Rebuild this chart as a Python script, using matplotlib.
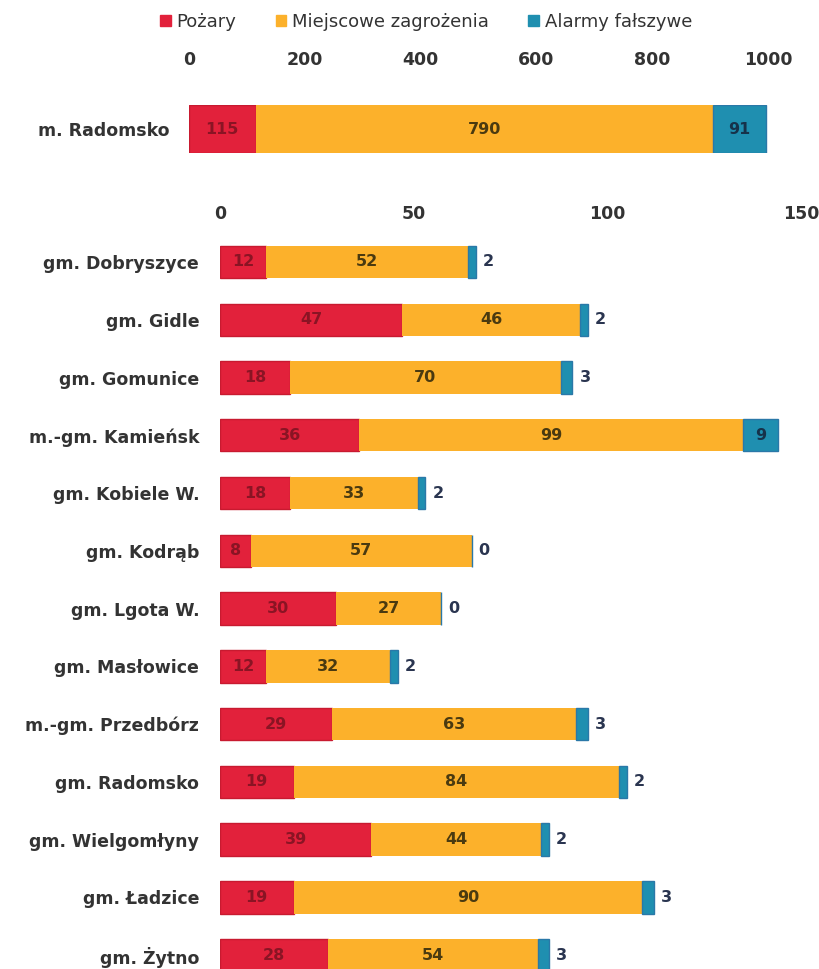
import matplotlib.pyplot as plt
from matplotlib.patches import Patch

plt.rcParams['font.family'] = ['DejaVu Sans']

# dane
miasto = ['m. Radomsko']
miasto_pozary = [115]
miasto_mz = [790]
miasto_af = [91]

gminy = ['gm. Dobryszyce', 'gm. Gidle', 'gm. Gomunice', 'm.-gm. Kamieńsk',
         'gm. Kobiele W.', 'gm. Kodrąb', 'gm. Lgota W.', 'gm. Masłowice',
         'm.-gm. Przedbórz', 'gm. Radomsko', 'gm. Wielgomłyny',
         'gm. Ładzice', 'gm. Żytno']
pozary = [12, 47, 18, 36, 18, 8, 30, 12, 29, 19, 39, 19, 28]
mz = [52, 46, 70, 99, 33, 57, 27, 32, 63, 84, 44, 90, 54]
af = [2, 2, 3, 9, 2, 0, 0, 2, 3, 2, 2, 3, 3]

top_ticks = [0, 200, 400, 600, 800, 1000]
bottom_ticks = [0, 50, 100, 150]

RED = '#e2213b'
ORANGE = '#fcb12b'
BLUE = '#1f8fb0'
TXT = '#333333'

fig = plt.figure(figsize=(8.19, 9.69), dpi=100)


def draw(ax, labels, p, m, a, xmax, ticks, h, thr):
    y = list(range(len(labels)))
    left2 = [pi + mi for pi, mi in zip(p, m)]
    ax.barh(y, p, color=RED, height=h, edgecolor='#c81a30', linewidth=1)
    ax.barh(y, m, left=p, color=ORANGE, height=h, linewidth=0)
    ax.barh(y, a, left=left2, color=BLUE, height=h, edgecolor='#2a78a8', linewidth=1)
    for i in y:
        ax.text(p[i] / 2, i, str(p[i]), ha='center', va='center',
                color='#8a1424', fontsize=11.5, fontweight='bold')
        ax.text(p[i] + m[i] / 2, i, str(m[i]), ha='center', va='center',
                color='#4a3a10', fontsize=11.5, fontweight='bold')
        if a[i] >= thr:
            ax.text(left2[i] + a[i] / 2, i, str(a[i]), ha='center', va='center',
                    color='#16324a', fontsize=11.5, fontweight='bold')
        else:
            ax.text(left2[i] + a[i] + xmax * 0.012, i, str(a[i]), ha='left',
                    va='center', color='#2a3550', fontsize=11.5, fontweight='bold')
    ax.set_xlim(0, xmax)
    ax.set_xticks(ticks)
    ax.xaxis.tick_top()
    ax.tick_params(axis='x', length=0, pad=0, labelsize=12.5, labelcolor=TXT)
    ax.tick_params(axis='y', length=0, pad=15, labelsize=12.5, labelcolor=TXT)
    for t in ax.get_xticklabels():
        t.set_fontweight('bold')
    ax.set_yticks(y)
    ax.set_yticklabels(labels, fontweight='bold')
    ax.invert_yaxis()
    for s in ax.spines.values():
        s.set_visible(False)


# gorny panel
ax1 = fig.add_axes([189 / 819, 1 - 153 / 969, 579 / 819, 48 / 969])
draw(ax1, miasto, miasto_pozary, miasto_mz, miasto_af, 1000, top_ticks, 1.0, 5)
ax1.set_ylim(0.5, -0.5)
ax1.tick_params(axis='x', pad=26)
ax1.tick_params(axis='y', pad=14)

# dolny panel
ax2 = fig.add_axes([220 / 819, 0.0, 581 / 819, 1 - 220 / 969])
draw(ax2, gminy, pozary, mz, af, 150, bottom_ticks, 0.56, 5)
ax2.set_ylim(12.24, -0.727)
ax2.tick_params(axis='x', pad=-2)

handles = [Patch(color=RED), Patch(color=ORANGE), Patch(color=BLUE)]
fig.legend(handles, ['Pożary', 'Miejscowe zagrożenia', 'Alarmy fałszywe'],
           loc='center', bbox_to_anchor=(0.52, 1 - 22 / 969), ncol=3,
           frameon=False, handlelength=0.6, handleheight=0.6, handletextpad=0.3,
           columnspacing=2.2, fontsize=13, labelcolor=TXT)

fig.savefig('out.png', dpi=100, facecolor='white')
